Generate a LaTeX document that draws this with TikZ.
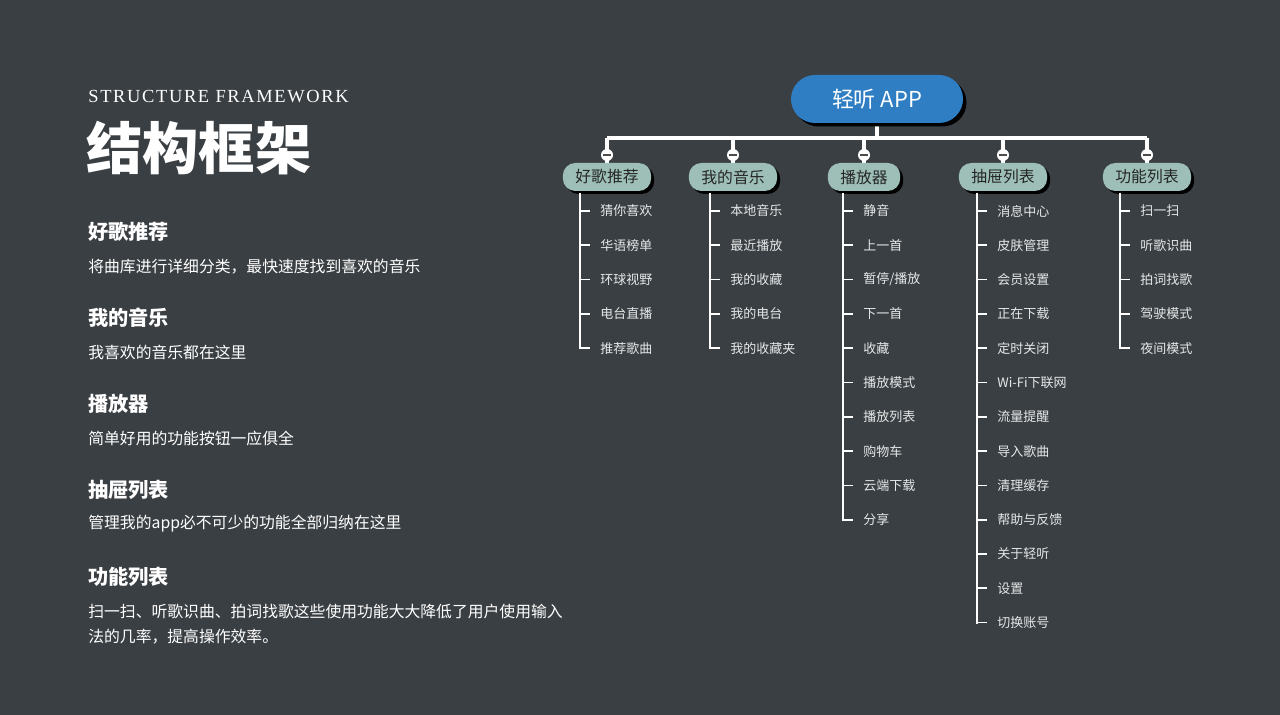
\documentclass[tikz,border=0pt]{standalone}
\usepackage{fontspec}
\setmainfont{Noto Sans CJK SC}
\newfontfamily\serifcaps[LetterSpace=9]{Liberation Serif}
\usetikzlibrary{shadows}
\definecolor{bgdark}{HTML}{3A3F43}
\definecolor{appblue}{HTML}{2F7EC3}
\definecolor{catgreen}{HTML}{9DBFB7}
\definecolor{leafgrey}{HTML}{E6E8E8}

\tikzset{
  rootbox/.style={rounded corners=24*0.02cm, fill=appblue, minimum width=172*0.02cm,
    minimum height=48*0.02cm, text=white, font=\fontsize{12.5}{14}\selectfont,
    drop shadow={shadow xshift=0.07cm, shadow yshift=-0.07cm, opacity=1, fill=black}},
  catbox/.style={rounded corners=0.25cm, fill=catgreen, minimum height=28*0.02cm,
    text=black!85, font=\fontsize{9}{10}\selectfont, inner xsep=0.25cm,
    drop shadow={shadow xshift=0.06cm, shadow yshift=-0.06cm, opacity=1, fill=black}},
  knob/.style={circle, fill=white, minimum size=12*0.02cm, inner sep=0pt},
  leaf/.style={anchor=west, inner sep=0pt, text=leafgrey, font=\fontsize{7.4}{8}\selectfont},
  link/.style={white, line width=2.2pt},
  twig/.style={white, line width=1pt},
  heading/.style={anchor=west, inner sep=0pt, text=white, font=\fontsize{11.5}{13}\selectfont\bfseries},
  blurb/.style={anchor=west, inner sep=0pt, text=white, font=\fontsize{9}{14}\selectfont, align=left}
}

\begin{document}
\begin{tikzpicture}[x=0.02cm, y=-0.02cm]
\fill[bgdark] (0,0) rectangle (1280,715);

% left column
\node (EN) at (88,97) [anchor=west, inner sep=0pt, text=white, font=\serifcaps\fontsize{10.5}{12}\selectfont] {STRUCTURE FRAMEWORK};
\node (ZH) at (86,148) [anchor=west, inner sep=0pt, text=white, font=\fontsize{32}{36}\selectfont\bfseries] {结构框架};
\node (H1) at (88,232) [heading] {好歌推荐};
\node (T1) at (88,267) [blurb] {将曲库进行详细分类，最快速度找到喜欢的音乐};
\node (H2) at (88,318) [heading] {我的音乐};
\node (T2) at (88,352) [blurb] {我喜欢的音乐都在这里};
\node (H3) at (88,404) [heading] {播放器};
\node (T3) at (88,438) [blurb] {简单好用的功能按钮一应俱全};
\node (H4) at (88,490) [heading] {抽屉列表};
\node (T4) at (88,524) [blurb] {管理我的app必不可少的功能全部归纳在这里};
\node (H5) at (88,577) [heading] {功能列表};
\node (T5) at (88,624) [blurb] {扫一扫、听歌识曲、拍词找歌这些使用功能大大降低了用户使用输入\\法的几率，提高操作效率。};

% tree
\coordinate (BL) at (607,138);
\coordinate (BR) at (1147,138);
\coordinate (BM) at (877,138);
\draw[link] (BL) -- (BR);
\draw[link] (BM) -- (877,120);
\node (R) at (877,99) [rootbox] {轻听 APP};

\foreach \name/\cx/\txt in {C1/607/好歌推荐, C2/733/我的音乐, C3/864/播放器, C4/1003/抽屉列表, C5/1147/功能列表}{
  \draw[link] (\cx,138) -- (\cx,170);
  \node (\name) at (\cx,177) [catbox] {\txt};
  \node (\name k) at (\cx,155) [knob] {};
  \draw[black!70, line width=1.4pt] (\cx-4,155) -- (\cx+4,155);
}

\foreach \name/\sx/\last/\items in {
  C1/580/5/{猜你喜欢,华语榜单,环球视野,电台直播,推荐歌曲},
  C2/710/5/{本地音乐,最近播放,我的收藏,我的电台,我的收藏夹},
  C3/843/10/{静音,上一首,暂停/播放,下一首,收藏,播放模式,播放列表,购物车,云端下载,分享},
  C4/977/13/{消息中心,皮肤管理,会员设置,正在下载,定时关闭,Wi-Fi下联网,流量提醒,导入歌曲,清理缓存,帮助与反馈,关于轻听,设置,切换账号},
  C5/1120/5/{扫一扫,听歌识曲,拍词找歌,驾驶模式,夜间模式}}{
  \coordinate (\name top) at (\sx,193);
  \coordinate (\name end) at (\sx,{211+34.3*(\last-1)+1});
  \draw[twig] (\name top) -- (\name end);
  \foreach \t [count=\i] in \items {
    \node (\name-\i) at (\sx+20,{211+34.3*(\i-1)}) [leaf] {\t};
    \coordinate (\name-\i s) at (\sx,{211+34.3*(\i-1)});
    \draw[twig] (\name-\i s) -- ([xshift=-0.2cm]\name-\i.west);
  }
}
\end{tikzpicture}
\end{document}
